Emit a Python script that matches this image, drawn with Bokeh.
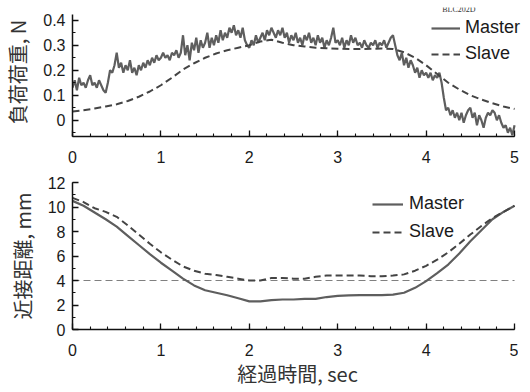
from bokeh.plotting import figure
from bokeh.layouts import column
from bokeh.models import (Range1d, Legend, LegendItem, Label,
                          SingleIntervalTicker, FixedTicker)
from bokeh.embed import file_html
from bokeh.resources import INLINE

# ---------------- data ----------------
# Top panel: load (N)
load_dt = 0.025
load_master = [
    0.13, 0.16, 0.12, 0.17, 0.14, 0.15, 0.13, 0.16, 0.18, 0.14,
    0.15, 0.13, 0.16, 0.14, 0.12, 0.11, 0.15, 0.20, 0.19, 0.22,
    0.27, 0.21, 0.23, 0.19, 0.22, 0.20, 0.24, 0.19, 0.21, 0.18,
    0.22, 0.20, 0.23, 0.21, 0.24, 0.22, 0.25, 0.23, 0.26, 0.24,
    0.25, 0.27, 0.25, 0.26, 0.24, 0.27, 0.26, 0.28, 0.25, 0.27,
    0.34, 0.26, 0.30, 0.24, 0.31, 0.28, 0.33, 0.27, 0.32, 0.29,
    0.31, 0.35, 0.29, 0.33, 0.30, 0.34, 0.31, 0.36, 0.32, 0.35,
    0.33, 0.37, 0.35, 0.38, 0.34, 0.36, 0.33, 0.37, 0.32, 0.30,
    0.29, 0.32, 0.30, 0.34, 0.31, 0.33, 0.35, 0.32, 0.36, 0.34,
    0.37, 0.35, 0.33, 0.36, 0.34, 0.37, 0.33, 0.35, 0.31, 0.34,
    0.32, 0.35, 0.31, 0.33, 0.30, 0.34, 0.32, 0.35, 0.31, 0.33,
    0.30, 0.34, 0.31, 0.33, 0.29, 0.32, 0.30, 0.33, 0.37, 0.31,
    0.32, 0.30, 0.33, 0.29, 0.32, 0.30, 0.34, 0.31, 0.33, 0.30,
    0.31, 0.29, 0.32, 0.30, 0.29, 0.31, 0.30, 0.32, 0.29, 0.31,
    0.30, 0.32, 0.29, 0.31, 0.33, 0.34, 0.30, 0.26, 0.24, 0.27,
    0.22, 0.25, 0.21, 0.24, 0.22, 0.19, 0.21, 0.17, 0.20, 0.18,
    0.19, 0.17, 0.19, 0.16, 0.18, 0.17, 0.19, 0.15, 0.09, 0.04,
    0.05, 0.02, 0.04, 0.01, 0.03, 0.00, 0.03, -0.01, 0.02, 0.04,
    0.05, 0.01, 0.03, -0.02, 0.02, 0.00, -0.03, 0.01, 0.03, 0.02,
    0.04, 0.03, 0.00, 0.02, -0.01, -0.03, -0.02, -0.05, -0.03, -0.06,
    -0.02,
]
load_master_t = [round(i * load_dt, 4) for i in range(len(load_master))]

smooth_dt = 0.125
load_slave = [
    0.035, 0.040, 0.047, 0.055, 0.064, 0.077, 0.094, 0.115, 0.140, 0.170,
    0.203, 0.228, 0.250, 0.267, 0.280, 0.290, 0.300, 0.315, 0.322, 0.310,
    0.300, 0.295, 0.290, 0.288, 0.286, 0.285, 0.285, 0.286, 0.287, 0.285,
    0.272, 0.250, 0.220, 0.185, 0.150, 0.123, 0.100, 0.083, 0.068, 0.055,
    0.045,
]
smooth_t = [round(i * smooth_dt, 4) for i in range(len(load_slave))]

# Bottom panel: proximity distance (mm)
dist_master = [
    10.5, 10.1, 9.55, 9.0, 8.4, 7.65, 6.9, 6.15, 5.45, 4.8,
    4.15, 3.6, 3.2, 3.0, 2.8, 2.55, 2.3, 2.3, 2.4, 2.45,
    2.45, 2.5, 2.5, 2.65, 2.75, 2.78, 2.8, 2.8, 2.8, 2.85,
    3.0, 3.4, 3.95, 4.6, 5.3, 6.2, 7.2, 8.1, 9.0, 9.6,
    10.1,
]
dist_slave = [
    10.75, 10.4, 9.9, 9.6, 9.2, 8.5, 7.75, 7.0, 6.3, 5.7,
    5.15, 4.8, 4.55, 4.45, 4.3, 4.15, 4.0, 4.0, 4.2, 4.2,
    4.15, 4.15, 4.3, 4.4, 4.4, 4.4, 4.4, 4.35, 4.35, 4.4,
    4.5, 4.8, 5.2, 5.7, 6.3, 7.0, 7.75, 8.45, 9.1, 9.6,
    10.1,
]
threshold = 4
t_start, t_end = 0, 5
series_names = ["Master", "Slave"]

top_ylabel = "負荷荷重, N"
bot_ylabel = "近接距離, mm"
xlabel = "経過時間, sec"
tag = "BLC202D"

# ---------------- style ----------------
MASTER_COLOR = "#5e5e5e"
SLAVE_COLOR = "#444444"
TICK_FONT = "Liberation Sans"
CJK_FONT = "Noto Sans CJK JP"
LEFT = 64
FRAME_W = 450
X_VIEW_END = 5.09   # frame extends a little past t=5 (axis bounded at 5)


def style_axes(p):
    for ax in (p.xaxis[0], p.yaxis[0]):
        ax.axis_line_color = "#111111"
        ax.axis_line_width = 1.5
        ax.major_tick_in = 6
        ax.major_tick_out = 0
        ax.minor_tick_in = 3
        ax.minor_tick_out = 0
        ax.major_tick_line_color = "#111111"
        ax.minor_tick_line_color = "#111111"
        ax.major_tick_line_width = 1.3
        ax.minor_tick_line_width = 1.1
        ax.major_label_text_font = TICK_FONT
        ax.major_label_text_font_size = "16px"
        ax.major_label_text_color = "#1a1a1a"
        ax.axis_label_text_font = CJK_FONT
        ax.axis_label_text_font_size = "20px"
        ax.axis_label_text_font_style = "normal"
        ax.axis_label_text_color = "#333333"
    p.xaxis[0].major_label_standoff = 14
    p.yaxis[0].major_label_standoff = 7
    p.yaxis[0].axis_label_standoff = 8
    p.xaxis[0].bounds = (t_start, t_end)
    p.xaxis[0].ticker = SingleIntervalTicker(interval=1, num_minor_ticks=5)
    p.xgrid.visible = False
    p.ygrid.visible = False
    p.outline_line_color = None


# ---------------- top panel ----------------
top = figure(frame_width=FRAME_W, frame_height=129,
             output_backend="svg", toolbar_location=None,
             x_range=Range1d(0, X_VIEW_END), y_range=Range1d(-0.065, 0.451),
             min_border_left=LEFT, min_border_right=0,
             min_border_top=7, min_border_bottom=34)
style_axes(top)
top.yaxis[0].bounds = (-0.065, 0.425)
top.yaxis[0].ticker = FixedTicker(ticks=[0, 0.1, 0.2, 0.3, 0.4],
                                  minor_ticks=[-0.05, 0.05, 0.15, 0.25, 0.35])
top.yaxis[0].major_label_overrides = {0: "0", 0.1: "0.1", 0.2: "0.2", 0.3: "0.3", 0.4: "0.4"}
top.yaxis[0].axis_label = top_ylabel

r_tm = top.line(load_master_t, load_master, line_color=MASTER_COLOR, line_width=2.2)
r_ts = top.line(smooth_t, load_slave, line_color=SLAVE_COLOR, line_width=2,
                line_dash="7 4")

leg_top = Legend(items=[LegendItem(label=series_names[0], renderers=[r_tm]),
                        LegendItem(label=series_names[1], renderers=[r_ts])],
                 location=(359, 72), padding=0, margin=0,
                 spacing=5, label_height=20, glyph_height=20, glyph_width=29,
                 label_standoff=5, label_text_font=TICK_FONT,
                 label_text_font_size="18px", label_text_color="#1a1a1a",
                 background_fill_alpha=0, border_line_color=None)
top.add_layout(leg_top, "center")

top.add_layout(Label(x=4.37, y=0.427, text=tag, text_font="Liberation Serif",
                     text_font_size="8px", text_align="center",
                     text_baseline="bottom", text_color="#333333"))

# ---------------- bottom panel ----------------
bot = figure(frame_width=FRAME_W, frame_height=147,
             output_backend="svg", toolbar_location=None,
             x_range=Range1d(0, X_VIEW_END), y_range=Range1d(0, 12),
             min_border_left=LEFT, min_border_right=0,
             min_border_top=12, min_border_bottom=56)
style_axes(bot)
bot.yaxis[0].ticker = SingleIntervalTicker(interval=2, num_minor_ticks=2)
bot.yaxis[0].axis_label = bot_ylabel
bot.xaxis[0].axis_label = xlabel
bot.xaxis[0].axis_label_standoff = 0
bot.xaxis[0].axis_label_text_font_size = "20px"

bot.line([t_start, t_end], [threshold, threshold], line_color="#808080",
         line_width=1, line_dash="7 4")
r_bm = bot.line(smooth_t, dist_master, line_color=MASTER_COLOR, line_width=2.2)
r_bs = bot.line(smooth_t, dist_slave, line_color=SLAVE_COLOR, line_width=2,
                line_dash="7 4")

leg_bot = Legend(items=[LegendItem(label=series_names[0], renderers=[r_bm]),
                        LegendItem(label=series_names[1], renderers=[r_bs])],
                 location=(304, 87), padding=0, margin=0,
                 spacing=7, label_height=20, glyph_height=20, glyph_width=31,
                 label_standoff=6, label_text_font=TICK_FONT,
                 label_text_font_size="18px", label_text_color="#1a1a1a",
                 background_fill_alpha=0, border_line_color=None)
bot.add_layout(leg_bot, "center")

layout = column(top, bot, spacing=0)
open("out.html", "w").write(file_html(layout, INLINE))
